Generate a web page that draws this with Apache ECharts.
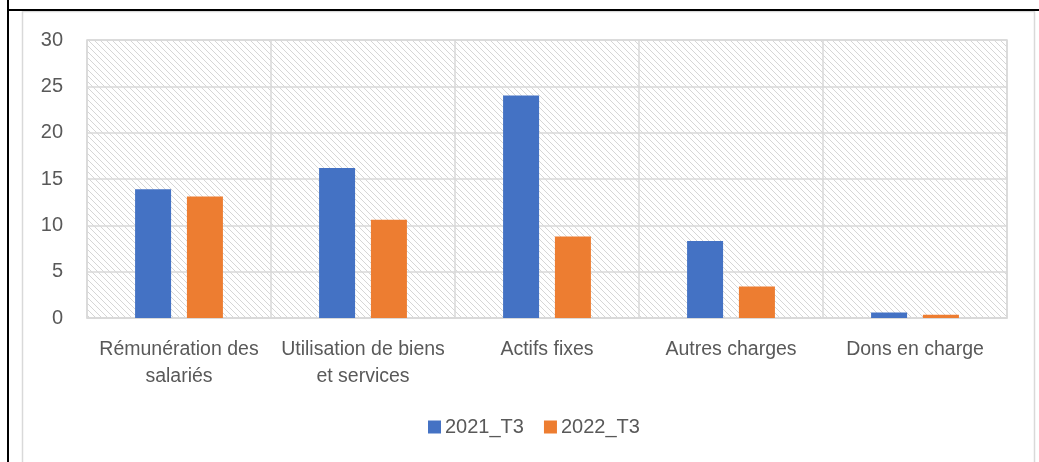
<!DOCTYPE html>
<html>
<head>
<meta charset="utf-8">
<script src="https://cdn.jsdelivr.net/npm/echarts@6/dist/echarts.min.js"></script>
<style>
html,body{margin:0;padding:0;background:#fff;}
#c{width:1039px;height:462px;}
</style>
</head>
<body>
<div id="c"></div>
<script>
var categories = ['Rémunération des\nsalariés', 'Utilisation de biens\net services', 'Actifs fixes', 'Autres charges', 'Dons en charge'];
var series2021 = [13.9, 16.2, 24.0, 8.3, 0.6];
var series2022 = [13.1, 10.6, 8.8, 3.4, 0.35];
var seriesNames = ['2021_T3', '2022_T3'];

var pc = document.createElement('canvas');
pc.width = 6; pc.height = 6;
var ctx = pc.getContext('2d');
ctx.fillStyle = '#ffffff';
ctx.fillRect(0, 0, 6, 6);
ctx.strokeStyle = '#d6d6d6';
ctx.lineWidth = 1;
ctx.beginPath();
ctx.moveTo(-1, -1); ctx.lineTo(7, 7);
ctx.moveTo(-1, 5); ctx.lineTo(1, 7);
ctx.moveTo(5, -1); ctx.lineTo(7, 1);
ctx.stroke();

var chart = echarts.init(document.getElementById('c'), null, {renderer: 'canvas'});
var font = 'Liberation Sans, Arial, sans-serif';
chart.setOption({
  animation: false,
  textStyle: {fontFamily: font},
  graphic: [
    {type: 'rect', z: -10, shape: {x: 22.5, y: 11.5, width: 1012, height: 500}, style: {fill: null, stroke: '#d9d9d9', lineWidth: 1.5}},
    {type: 'line', shape: {x1: 8, y1: 0, x2: 8, y2: 462}, style: {stroke: '#000', lineWidth: 2}},
    {type: 'line', shape: {x1: 7, y1: 10, x2: 1039, y2: 10}, style: {stroke: '#000', lineWidth: 2}}
  ],
  grid: {
    left: 87, right: 32, top: 40, bottom: 144,
    show: true,
    backgroundColor: {image: pc, repeat: 'repeat'},
    borderColor: '#d9d9d9', borderWidth: 1.5
  },
  legend: {
    data: seriesNames,
    left: 428, top: 417, padding: 0,
    icon: 'rect', itemWidth: 13, itemHeight: 13, itemGap: 20,
    textStyle: {fontSize: 20, color: '#595959', fontFamily: font, padding: [0, 0, 0, -1]}
  },
  xAxis: {
    type: 'category',
    data: categories,
    axisLine: {show: true, lineStyle: {color: '#d9d9d9', width: 1.5}},
    axisTick: {show: false},
    splitLine: {show: true, interval: 0, lineStyle: {color: '#d9d9d9', width: 1.5}},
    axisLabel: {interval: 0, fontSize: 19.5, color: '#595959', lineHeight: 27, margin: 18, fontFamily: font}
  },
  yAxis: {
    type: 'value', min: 0, max: 30, interval: 5,
    axisLine: {show: false}, axisTick: {show: false},
    splitLine: {lineStyle: {color: '#d9d9d9', width: 1.5}},
    axisLabel: {fontSize: 20, color: '#595959', margin: 24, fontFamily: font}
  },
  series: [
    {name: seriesNames[0], type: 'bar', data: series2021, barWidth: 36, barGap: '44%', itemStyle: {color: '#4472c4'}},
    {name: seriesNames[1], type: 'bar', data: series2022, barWidth: 36, itemStyle: {color: '#ed7d31'}}
  ]
});
</script>
</body>
</html>
